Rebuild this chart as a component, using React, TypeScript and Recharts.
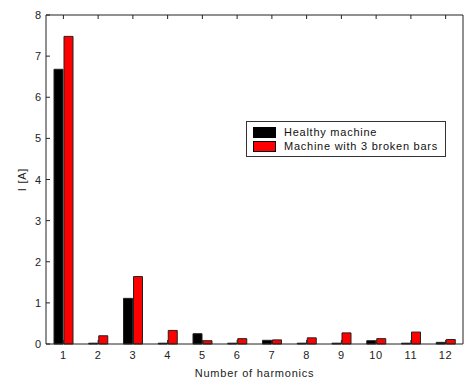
import { Bar, BarChart, Label, XAxis, YAxis } from "recharts";

const harmonics = [1, 2, 3, 4, 5, 6, 7, 8, 9, 10, 11, 12];
const healthy = [6.68, 0.02, 1.11, 0.02, 0.25, 0.02, 0.09, 0.02, 0.02, 0.08, 0.02, 0.04];
const broken = [7.48, 0.2, 1.64, 0.33, 0.08, 0.13, 0.1, 0.15, 0.27, 0.13, 0.29, 0.11];
const yTicks = [0, 1, 2, 3, 4, 5, 6, 7, 8];

const data = harmonics.map((h, i) => ({ h, healthy: healthy[i], broken: broken[i] }));

const font = "'Liberation Sans', Arial, sans-serif";
const axisColor = "#222";
const spacing = 0.75;

function BottomTick({ x, y, payload }: any) {
  return (
    <g>
      <line x1={x} y1={y} x2={x} y2={y - 4} stroke={axisColor} />
      <text
        x={x}
        y={y + 15}
        textAnchor="middle"
        fontSize={11}
        letterSpacing={spacing}
        fill={axisColor}
        fontFamily={font}
      >
        {payload.value}
      </text>
    </g>
  );
}

function TopTick({ x, y }: any) {
  return <line x1={x} y1={y} x2={x} y2={y + 4} stroke={axisColor} />;
}

function LeftTick({ x, y, payload }: any) {
  return (
    <g>
      <line x1={x} y1={y} x2={x + 4} y2={y} stroke={axisColor} />
      <text x={x - 5} y={y + 4} textAnchor="end" fontSize={11} fill={axisColor} fontFamily={font}>
        {payload.value}
      </text>
    </g>
  );
}

function RightTick({ x, y }: any) {
  return <line x1={x} y1={y} x2={x - 4} y2={y} stroke={axisColor} />;
}

function LegendBox() {
  const rows = [
    { label: "Healthy machine", color: "#000" },
    { label: "Machine with 3 broken bars", color: "#ff0000" },
  ];
  return (
    <div
      style={{
        position: "absolute",
        left: 246,
        top: 121,
        width: 200,
        height: 36,
        border: "1px solid #333",
        background: "#fff",
        fontFamily: font,
        fontSize: 11,
        letterSpacing: spacing,
        color: "#111",
        padding: "3px 0 0 6px",
        boxSizing: "border-box",
      }}
    >
      {rows.map((r) => (
        <div key={r.label} style={{ display: "flex", alignItems: "center", height: 14 }}>
          <span
            style={{
              display: "inline-block",
              width: 23,
              height: 11,
              background: r.color,
              border: "1px solid #000",
              boxSizing: "border-box",
              marginRight: 8,
            }}
          />
          {r.label}
        </div>
      ))}
    </div>
  );
}

export default function App() {
  return (
    <div style={{ position: "absolute", left: 0, top: 0, width: 467, height: 380, background: "#fff" }}>
      <BarChart
        width={467}
        height={380}
        data={data}
        margin={{ top: 14, right: 3, left: 0, bottom: 0 }}
        barCategoryGap="22%"
        barGap={1}
      >
        <XAxis
          dataKey="h"
          height={36}
          stroke={axisColor}
          tickSize={0}
          tickMargin={0}
          tickLine={false}
          tick={<BottomTick />}
          interval={0}
        >
          <Label
            value="Number of harmonics"
            position="insideBottom"
            offset={3}
            style={{ fontSize: 11, fill: axisColor, fontFamily: font, letterSpacing: spacing }}
          />
        </XAxis>
        <XAxis
          xAxisId="top"
          dataKey="h"
          orientation="top"
          height={1}
          stroke={axisColor}
          tickSize={0}
          tickMargin={0}
          tickLine={false}
          tick={<TopTick />}
          interval={0}
        />
        <YAxis
          width={46}
          domain={[0, 8]}
          ticks={yTicks}
          stroke={axisColor}
          tickSize={0}
          tickMargin={0}
          tickLine={false}
          tick={<LeftTick />}
          interval={0}
        >
          <Label
            content={({ viewBox }: any) => (
              <text
                x={viewBox.x + 22}
                y={viewBox.y + viewBox.height / 2}
                transform={`rotate(-90 ${viewBox.x + 22} ${viewBox.y + viewBox.height / 2})`}
                textAnchor="middle"
                dominantBaseline="central"
                fontSize={11}
                letterSpacing={spacing}
                fill={axisColor}
                fontFamily={font}
              >
                I [A]
              </text>
            )}
          />
        </YAxis>
        <YAxis
          yAxisId="right"
          orientation="right"
          width={1}
          domain={[0, 8]}
          ticks={yTicks}
          stroke={axisColor}
          tickSize={0}
          tickMargin={0}
          tickLine={false}
          tick={<RightTick />}
          interval={0}
        />
        <Bar dataKey="healthy" name="Healthy machine" fill="#000" stroke="#222" barSize={9} isAnimationActive={false} />
        <Bar
          dataKey="broken"
          name="Machine with 3 broken bars"
          fill="#ff0000"
          stroke="#222"
          barSize={9}
          isAnimationActive={false}
        />
      </BarChart>
      <LegendBox />
    </div>
  );
}
